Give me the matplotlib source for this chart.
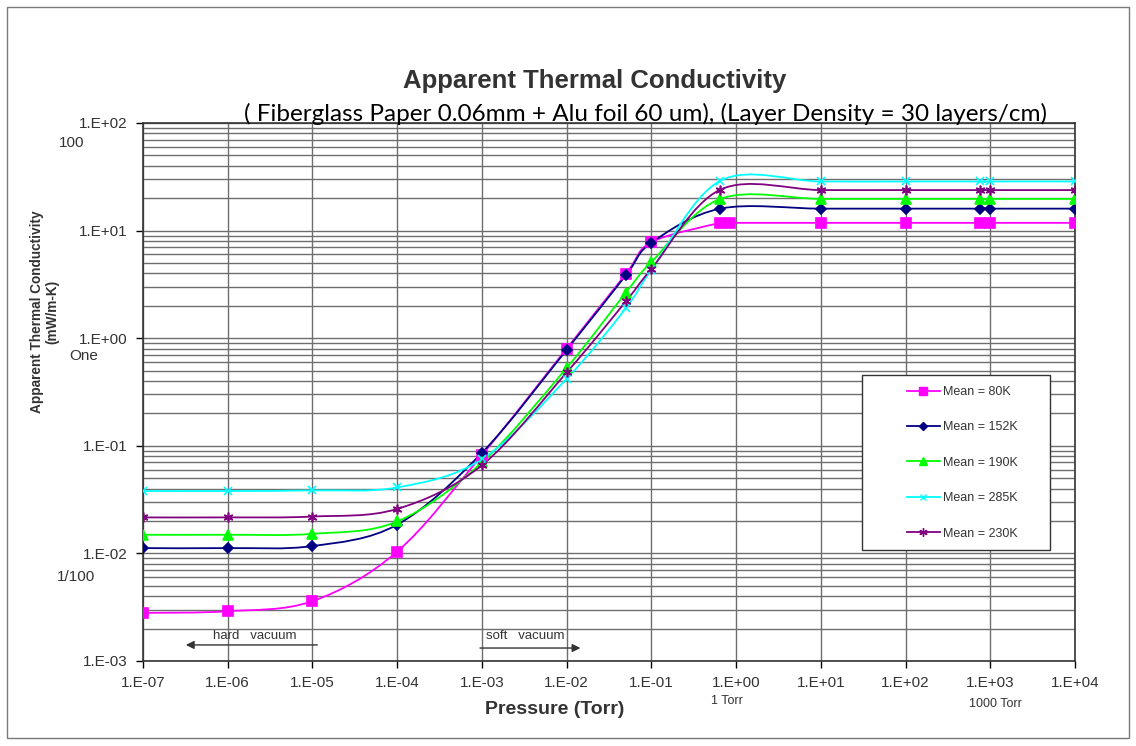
import numpy as np
import matplotlib
matplotlib.use("Agg")
import matplotlib.pyplot as plt
from matplotlib.path import Path
from matplotlib.patches import PathPatch, Rectangle
from matplotlib.ticker import FixedLocator, FixedFormatter, LogLocator, NullFormatter

plt.rcParams['font.family'] = ['Liberation Sans', 'DejaVu Sans']

# pressure points (Torr)
p_80 = [1e-7, 1e-6, 1e-5, 1e-4, 1e-3, 1e-2, 5e-2, 1e-1, 0.65, 0.85, 10, 100, 760, 1000, 1e4]
p_all = [1e-7, 1e-6, 1e-5, 1e-4, 1e-3, 1e-2, 5e-2, 1e-1, 0.65, 10, 100, 760, 1000, 1e4]

# apparent thermal conductivity (mW/m-K)
k_80 = [0.0028, 0.0029, 0.0036, 0.0104, 0.082, 0.80, 3.95, 7.8, 11.8, 11.8, 11.8, 11.8, 11.8, 11.8, 11.8]
k_152 = [0.0112, 0.0112, 0.0117, 0.0185, 0.086, 0.78, 3.85, 7.7, 16.0, 16.0, 16.0, 16.0, 16.0, 16.0]
k_190 = [0.0149, 0.0149, 0.0152, 0.0198, 0.070, 0.53, 2.65, 5.1, 19.7, 19.7, 19.7, 19.7, 19.7, 19.7]
k_285 = [0.038, 0.038, 0.0385, 0.041, 0.075, 0.42, 1.9, 4.3, 29.0, 28.6, 28.6, 28.6, 28.6, 28.6]
k_230 = [0.0216, 0.0216, 0.0220, 0.0259, 0.066, 0.48, 2.2, 4.4, 24.0, 23.8, 23.8, 23.8, 23.8, 23.8]

labels = ['Mean = 80K', 'Mean = 152K', 'Mean = 190K', 'Mean = 285K', 'Mean = 230K']
x_ticks = [1e-7, 1e-6, 1e-5, 1e-4, 1e-3, 1e-2, 1e-1, 1e0, 1e1, 1e2, 1e3, 1e4]
x_tick_labels = ['1.E-07', '1.E-06', '1.E-05', '1.E-04', '1.E-03', '1.E-02', '1.E-01',
                 '1.E+00', '1.E+01', '1.E+02', '1.E+03', '1.E+04']
y_ticks = [1e-3, 1e-2, 1e-1, 1e0, 1e1, 1e2]
y_tick_labels = ['1.E-03', '1.E-02', '1.E-01', '1.E+00', '1.E+01', '1.E+02']


def smooth_path(xs, ys):
    # Excel-style smoothed line: cubic bezier through the points, in log space
    lx = np.log10(xs)
    ly = np.log10(ys)
    n = len(lx)
    verts = [(lx[0], ly[0])]
    codes = [Path.MOVETO]
    for i in range(n - 1):
        a = max(i - 1, 0)
        b = min(i + 2, n - 1)
        c1 = (lx[i] + (lx[i + 1] - lx[a]) / 6, ly[i] + (ly[i + 1] - ly[a]) / 6)
        c2 = (lx[i + 1] - (lx[b] - lx[i]) / 6, ly[i + 1] - (ly[b] - ly[i]) / 6)
        verts += [c1, c2, (lx[i + 1], ly[i + 1])]
        codes += [Path.CURVE4] * 3
    verts = 10.0 ** np.array(verts)
    return Path(verts, codes)


W, H = 1136, 746
fig = plt.figure(figsize=(W / 100, H / 100), dpi=100)
ax = fig.add_axes([143 / W, 1 - 661 / H, 932 / W, 538 / H])
ax.set_xscale('log')
ax.set_yscale('log')
ax.set_xlim(1e-7, 1e4)
ax.set_ylim(1e-3, 1e2)

series = [
    (p_80, k_80, '#FF00FF', 's', 7, labels[0]),
    (p_all, k_152, '#000080', 'D', 5, labels[1]),
    (p_all, k_190, '#00FF00', '^', 6.5, labels[2]),
    (p_all, k_285, '#00FFFF', 'x', 6, labels[3]),
    (p_all, k_230, '#800080', (6, 2, 0), 7, labels[4]),
]
for xs, ys, col, mk, ms, lab in series:
    ax.add_patch(PathPatch(smooth_path(xs, ys), fill=False, edgecolor=col, lw=1.3, zorder=3))
    ax.plot(xs, ys, linestyle='none', marker=mk, color=col, markersize=ms,
            markeredgewidth=1.2, zorder=4)
    ax.plot([], [], color=col, marker=mk, markersize=ms - 1, lw=1.3, label=lab)

ax.xaxis.set_major_locator(FixedLocator(x_ticks))
ax.xaxis.set_major_formatter(FixedFormatter(x_tick_labels))
ax.xaxis.set_minor_locator(FixedLocator([]))
ax.yaxis.set_major_locator(FixedLocator(y_ticks))
ax.yaxis.set_major_formatter(FixedFormatter(y_tick_labels))
ax.yaxis.set_minor_locator(LogLocator(base=10, subs=np.arange(2, 10)))
ax.yaxis.set_minor_formatter(NullFormatter())
ax.tick_params(which='major', direction='out', length=5, width=1, labelsize=11,
               labelcolor='#333333', pad=6)
ax.tick_params(which='minor', length=0)
ax.grid(True, which='major', color='#6e6e6e', lw=1.0)
ax.grid(True, which='minor', axis='y', color='#6e6e6e', lw=1.0)
ax.set_axisbelow(True)
for s in ax.spines.values():
    s.set_color('#333333')
    s.set_linewidth(1.2)

ax.set_xlabel('Pressure (Torr)', fontsize=14, fontweight='bold', color='#333333')
ax.xaxis.set_label_coords((555 - 143) / 932, -(710 - 661) / 538)
ax.xaxis.label.set_va('center')
ax.set_ylabel('Apparent Thermal Conductivity\n(mW/m-K)', fontsize=9.8, fontweight='bold',
              color='#333333', linespacing=1.1)
ax.yaxis.set_label_coords(-(143 - 45) / 932, (661 - 312) / 538)
ax.yaxis.label.set_va('center')

# legend: frame drawn separately so the entries can sit well inside it
ax.add_patch(Rectangle((0.7715, 0.2063), 0.2017, 0.3253, transform=ax.transAxes,
                       facecolor='white', edgecolor='#333333', lw=1.0, zorder=5))
leg = ax.legend(loc='upper left', bbox_to_anchor=(0.8197, 0.511), fontsize=9,
                frameon=False, borderpad=0, borderaxespad=0,
                labelspacing=1.87, handlelength=2.64, handletextpad=0.25)
leg.set_zorder(6)
for t in leg.get_texts():
    t.set_color('#333333')

# vacuum annotations
ax.annotate('', xy=(2.97e-7, 1.41e-3), xytext=(1.23e-5, 1.41e-3),
            arrowprops=dict(arrowstyle='-|>', color='#333333', lw=1.0, mutation_scale=12))
ax.text(2.1e-6, 1.71e-3, 'hard   vacuum', ha='center', va='center', fontsize=9.5, color='#333333')
ax.annotate('', xy=(1.57e-2, 1.32e-3), xytext=(8.8e-4, 1.32e-3),
            arrowprops=dict(arrowstyle='-|>', color='#333333', lw=1.0, mutation_scale=12))
ax.text(3.24e-3, 1.71e-3, 'soft   vacuum', ha='center', va='center', fontsize=9.5, color='#333333')


def fx(x):
    return x / W


def fy(y):
    return 1 - y / H


fig.text(fx(595), fy(81), 'Apparent Thermal Conductivity', ha='center', va='center',
         fontsize=18.5, fontweight='bold', color='#333333')
fig.text(fx(645), fy(114), '( Fiberglass Paper 0.06mm + Alu foil 60 um), (Layer Density = 30 layers/cm)',
         ha='center', va='center', fontsize=17.5, family=['Lato', 'DejaVu Sans'], color='black')
fig.text(fx(72), fy(143), '100', ha='center', va='center', fontsize=11, color='#333333')
fig.text(fx(84), fy(356), 'One', ha='center', va='center', fontsize=11, color='#333333')
fig.text(fx(76), fy(577), '1/100', ha='center', va='center', fontsize=11, color='#333333')
fig.text(fx(727), fy(701), '1 Torr', ha='center', va='center', fontsize=9, color='#333333')
fig.text(fx(995), fy(704), '1000 Torr', ha='center', va='center', fontsize=9, color='#333333')

fig.patches.append(Rectangle((fx(7), fy(738)), fx(1122), 731 / H, transform=fig.transFigure,
                             fill=False, edgecolor='#7a7a7a', lw=1.0))

fig.savefig('out.png', dpi=100)
